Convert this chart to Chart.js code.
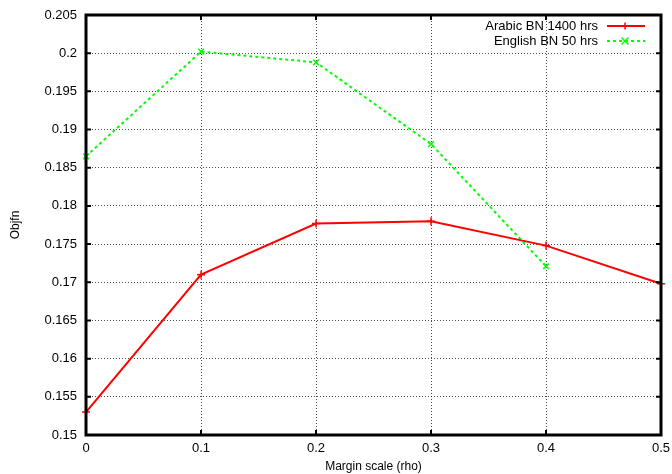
<!DOCTYPE html>
<html><head><meta charset="utf-8">
<script src="https://cdn.jsdelivr.net/npm/chart.js@4"></script>
<style>html,body{margin:0;padding:0;background:#fff}#w{width:672px;height:474px}</style>
</head><body><div id="w"><canvas id="c" width="672" height="474"></canvas></div>
<script>
const xValues = [0, 0.1, 0.2, 0.3, 0.4, 0.5];
const arabicBN1400 = [0.1530, 0.1710, 0.1777, 0.1780, 0.1748, 0.1698];
const englishX = [0, 0.1, 0.2, 0.3, 0.4];
const englishBN50 = [0.1865, 0.2002, 0.1988, 0.1881, 0.1721];
const seriesNames = ['Arabic BN 1400 hrs', 'English BN 50 hrs'];
const xTitle = 'Margin scale (rho)';
const yTitle = 'Objfn';

const FONT = '"Liberation Sans", Arial, sans-serif';

const framePlugin = {
  id: 'frame',
  afterDraw(chart) {
    const {ctx, chartArea: a, scales} = chart;
    ctx.save();
    ctx.strokeStyle = '#000'; ctx.lineWidth = 2;
    scales.y.ticks.forEach(t => {
      const y = scales.y.getPixelForValue(t.value);
      ctx.beginPath(); ctx.moveTo(a.left, y); ctx.lineTo(a.left + 5, y);
      ctx.moveTo(a.right, y); ctx.lineTo(a.right - 5, y); ctx.stroke();
    });
    scales.x.ticks.forEach(t => {
      const x = scales.x.getPixelForValue(t.value);
      ctx.beginPath(); ctx.moveTo(x, a.bottom); ctx.lineTo(x, a.bottom - 5);
      ctx.moveTo(x, a.top); ctx.lineTo(x, a.top + 5); ctx.stroke();
    });
    ctx.lineWidth = 3;
    ctx.strokeRect(a.left, a.top, a.right - a.left, a.bottom - a.top);
    // legend
    ctx.font = '13px ' + FONT;
    ctx.textAlign = 'right'; ctx.textBaseline = 'middle'; ctx.fillStyle = '#000';
    chart.data.datasets.forEach((ds, i) => {
      const y = a.top + 11 + i * 15;
      ctx.fillText(ds.label, a.right - 63, y);
      ctx.strokeStyle = ds.borderColor; ctx.lineWidth = 2;
      ctx.setLineDash(ds.borderDash || []);
      ctx.beginPath(); ctx.moveTo(a.right - 54, y); ctx.lineTo(a.right - 16, y); ctx.stroke();
      ctx.setLineDash([]);
      const mx = a.right - 36, r = 3.5;
      ctx.lineWidth = 1.5; ctx.beginPath();
      if (ds.pointStyle === 'cross') {
        ctx.moveTo(mx - r, y); ctx.lineTo(mx + r, y); ctx.moveTo(mx, y - r); ctx.lineTo(mx, y + r);
      } else {
        ctx.moveTo(mx - r, y - r); ctx.lineTo(mx + r, y + r); ctx.moveTo(mx - r, y + r); ctx.lineTo(mx + r, y - r);
      }
      ctx.stroke();
    });
    ctx.restore();
  }
};

new Chart(document.getElementById('c'), {
  type: 'scatter',
  data: {
    datasets: [
      {
        label: seriesNames[0],
        data: xValues.map((x, i) => ({x, y: arabicBN1400[i]})),
        showLine: true, borderColor: '#ff0000', backgroundColor: '#ff0000',
        borderWidth: 2, pointStyle: 'cross', pointRadius: 4, pointBorderWidth: 1.5,
        tension: 0, clip: false
      },
      {
        label: seriesNames[1],
        data: englishX.map((x, i) => ({x, y: englishBN50[i]})),
        showLine: true, borderColor: '#00ff00', backgroundColor: '#00ff00',
        borderWidth: 2, borderDash: [3, 3], pointStyle: 'crossRot', pointRadius: 4, pointBorderWidth: 1.5,
        tension: 0, clip: false
      }
    ]
  },
  options: {
    responsive: false, animation: false,
    layout: {padding: {top: 15, right: 11, left: 0, bottom: 0}},
    plugins: {legend: {display: false}, tooltip: {enabled: false}},
    scales: {
      x: {
        type: 'linear', min: 0, max: 0.5,
        ticks: {stepSize: 0.1, color: '#000', font: {family: FONT, size: 13}, padding: 6, maxRotation: 0,
          callback: v => String(Math.round(v * 10) / 10)},
        grid: {color: 'rgba(0,0,0,0.7)', borderDash: [1, 2], drawTicks: false, lineWidth: 1},
        border: {display: false, dash: [1, 2]},
        title: {display: true, text: xTitle, color: '#000', font: {family: FONT, size: 12}, padding: {top: 3, bottom: 0}},
        afterFit: s => { s.height = 39; s.paddingLeft = 0; s.paddingRight = 0; }
      },
      y: {
        type: 'linear', min: 0.15, max: 0.205,
        ticks: {stepSize: 0.005, color: '#000', font: {family: FONT, size: 13}, padding: 9,
          callback: v => String(Math.round(v * 1000) / 1000)},
        grid: {color: 'rgba(0,0,0,0.7)', borderDash: [1, 2], drawTicks: false, lineWidth: 1},
        border: {display: false, dash: [1, 2]},
        title: {display: true, text: yTitle, color: '#000', font: {family: FONT, size: 12}, padding: {top: 8, bottom: 0}},
        afterFit: s => { s.width = 86; s.paddingTop = 0; s.paddingBottom = 0; }
      }
    }
  },
  plugins: [framePlugin]
});
</script>
</body></html>
